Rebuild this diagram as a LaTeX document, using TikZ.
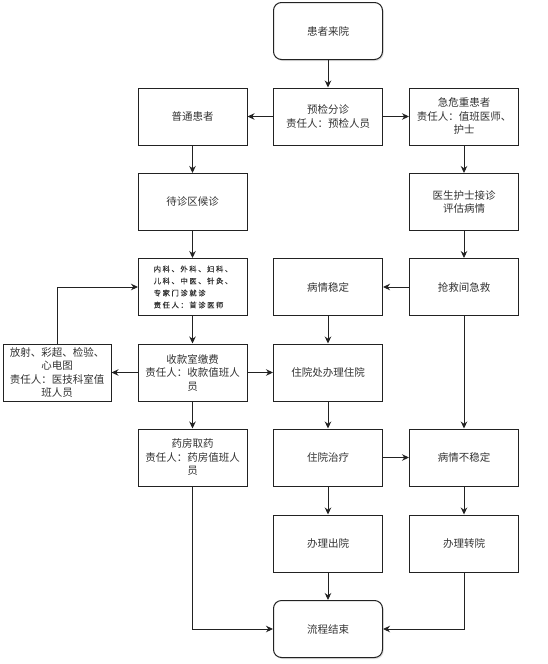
\documentclass[tikz,border=0pt]{standalone}
\usepackage{fontspec}
\newfontfamily\cjk{Noto Sans CJK SC}
\newfontfamily\cjks[LetterSpace=22,FakeBold=0.6]{Noto Sans CJK SC}
\usetikzlibrary{arrows.meta,shadows}
\definecolor{txt}{HTML}{333333}
\definecolor{ln}{HTML}{222222}
\begin{document}
\begin{tikzpicture}[x=1pt,y=-1pt,
  box/.style={draw=ln, line width=1pt, minimum width=109pt, minimum height=57pt,
    inner sep=2pt, align=center, text=txt, fill=white,
    font=\cjk\fontsize{10.5}{13.5}\selectfont},
  rbox/.style={box, rounded corners=8pt,
    drop shadow={opacity=0.25, shadow xshift=1.2pt, shadow yshift=-1.5pt}},
  arr/.style={draw=ln, line width=0.9pt, -{Stealth[length=7pt,width=6.5pt]}}]
\useasboundingbox (0,0) rectangle (547,664);
% columns: L 192.5, M 328, R 464, FL 57
\node[rbox] (start) at (328,31) {患者来院};
\node[box] (yj) at (328,116.5) {预检分诊\\责任人：预检人员};
\node[box] (pt) at (192.5,116.5) {普通患者};
\node[box] (jw) at (464,116.5) {急危重患者\\责任人：值班医师、\\护士};
\node[box] (dz) at (192.5,202) {待诊区候诊};
\node[box] (ys) at (464,202) {医生护士接诊\\评估病情};
\node[box, align=left, font=\cjks\fontsize{7.3}{12}\selectfont] (nk) at (193,287)
  {内科、外科、妇科、\\儿科、中医、针灸、\\专家门诊就诊\\责任人：首诊医师};
\node[box] (wd) at (328,287) {病情稳定};
\node[box] (qj) at (464,287) {抢救间急救};
\node[box, minimum width=108pt] (fs) at (57,372.5) {放射、彩超、检验、\\心电图\\责任人：医技科室值\\班人员};
\node[box] (sk) at (192.5,372.5) {收款室缴费\\责任人：收款值班人\\员};
\node[box] (zy) at (328,372.5) {住院处办理住院};
\node[box] (yf) at (192.5,457.5) {药房取药\\责任人：药房值班人\\员};
\node[box] (zl) at (328,457.5) {住院治疗};
\node[box] (bw) at (464,457.5) {病情不稳定};
\node[box] (cy) at (328,543.5) {办理出院};
\node[box] (zhy) at (464,543.5) {办理转院};
\node[rbox] (end) at (328,629) {流程结束};
% connectors
\draw[arr] (start) -- (yj);
\draw[arr] (yj) -- (pt);
\draw[arr] (yj) -- (jw);
\draw[arr] (pt) -- (dz);
\draw[arr] (dz) -- (nk.north -| dz.south);
\draw[arr] (jw) -- (ys);
\draw[arr] (ys) -- (qj);
\draw[arr] (qj) -- (wd);
\draw[arr] (wd) -- (zy);
\draw[arr] (qj) -- (bw);
\draw[arr] (nk.south -| sk.north) -- (sk);
\draw[arr] (sk) -- (fs);
\draw[arr] (sk) -- (zy);
\draw[arr] (sk) -- (yf);
\draw[arr] (fs.north) |- (nk.west);
\draw[arr] (zy) -- (zl);
\draw[arr] (zl) -- (bw);
\draw[arr] (zl) -- (cy);
\draw[arr] (bw) -- (zhy);
\draw[arr] (cy) -- (end);
\draw[arr] (yf.south) |- (end.west);
\draw[arr] (zhy.south) |- (end.east);
\end{tikzpicture}
\end{document}
